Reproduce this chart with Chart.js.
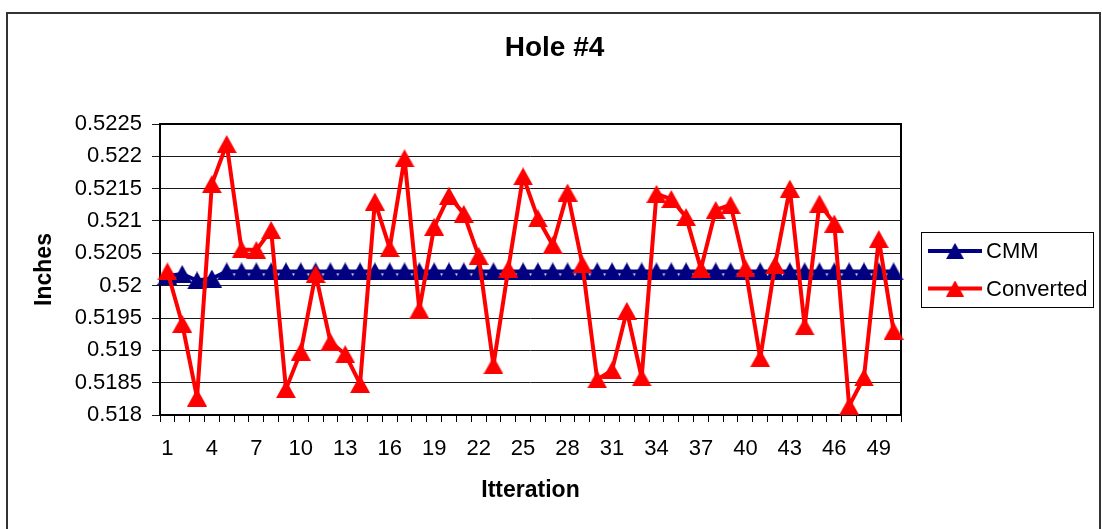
<!DOCTYPE html>
<html>
<head>
<meta charset="utf-8">
<title>Hole #4</title>
<script src="https://cdn.jsdelivr.net/npm/chart.js@4.4.0/dist/chart.umd.min.js"></script>
<style>
  html, body { margin: 0; padding: 0; background: #fff; }
  #chart { display: block; }
</style>
</head>
<body>
<canvas id="chart" width="1102" height="529"></canvas>
<script>
// data
var iterations = [1, 2, 3, 4, 5, 6, 7, 8, 9, 10,
  11, 12, 13, 14, 15, 16, 17, 18, 19, 20,
  21, 22, 23, 24, 25, 26, 27, 28, 29, 30,
  31, 32, 33, 34, 35, 36, 37, 38, 39, 40,
  41, 42, 43, 44, 45, 46, 47, 48, 49, 50];

var xTickLabels = [1, 4, 7, 10, 13, 16, 19, 22, 25, 28, 31, 34, 37, 40, 43, 46, 49];

var cmm = [0.52015, 0.52018, 0.52008, 0.52011, 0.52022, 0.52022, 0.52022, 0.52022, 0.52022, 0.52022,
  0.52022, 0.52022, 0.52022, 0.52022, 0.52022, 0.52022, 0.52022, 0.52022, 0.52022, 0.52022,
  0.52022, 0.52022, 0.52022, 0.52022, 0.52022, 0.52022, 0.52022, 0.52022, 0.52022, 0.52022,
  0.52022, 0.52022, 0.52022, 0.52022, 0.52022, 0.52022, 0.52022, 0.52022, 0.52022, 0.52022,
  0.52022, 0.52022, 0.52022, 0.52022, 0.52022, 0.52022, 0.52022, 0.52022, 0.52022, 0.52022];

var converted = [0.52022, 0.51941, 0.51827, 0.52157, 0.52219, 0.52056, 0.52055, 0.52086, 0.51840, 0.51898,
  0.52018, 0.51913, 0.51894, 0.51848, 0.52130, 0.52058, 0.52197, 0.51963, 0.52091, 0.52139,
  0.52111, 0.52046, 0.51877, 0.52026, 0.52169, 0.52104, 0.52063, 0.52144, 0.52033, 0.51855,
  0.51869, 0.51961, 0.51858, 0.52142, 0.52134, 0.52106, 0.52026, 0.52117, 0.52125, 0.52027,
  0.51888, 0.52032, 0.52150, 0.51937, 0.52127, 0.52096, 0.51814, 0.51858, 0.52072, 0.51930];

var yMin = 0.518;
var yMax = 0.5225;
var yStep = 0.0005;

var FONT = "'Liberation Sans', Arial, sans-serif";
var NAVY = '#000080';
var RED = '#FF0000';

// excel style triangle, centred on its box
function triangle(color, w, h) {
  var c = document.createElement('canvas');
  c.width = w;
  c.height = h;
  var g = c.getContext('2d');
  g.fillStyle = color;
  g.beginPath();
  g.moveTo(w / 2, 0);
  g.lineTo(w, h);
  g.lineTo(0, h);
  g.closePath();
  g.fill();
  return c;
}

var navyTri = triangle(NAVY, 20, 18);
var redTri = triangle(RED, 20, 18);

// legend drawn as a layout box on the right
var legendBox = {
  id: 'excelLegend',
  beforeInit: function(chart) {
    var box = {
      position: 'right',
      weight: 0,
      fullSize: false,
      options: {},
      width: 0, height: 0, left: 0, top: 0, right: 0, bottom: 0,
      isHorizontal: function() { return false; },
      update: function(maxWidth, maxHeight) {
        this.width = 201;
        this.height = maxHeight;
      },
      draw: function() {
        var ctx = chart.ctx;
        var area = chart.chartArea;
        var mid = (area.top + area.bottom) / 2;
        var x0 = this.left + 20;
        ctx.save();
        ctx.fillStyle = '#fff';
        ctx.fillRect(x0, mid - 37.5, 172, 75);
        ctx.strokeStyle = '#000';
        ctx.lineWidth = 1;
        ctx.strokeRect(Math.round(x0) + 0.5, Math.round(mid - 37.5) + 0.5, 172, 75);
        var items = chart.data.datasets;
        var rows = [mid - 18.5, mid + 19];
        items.forEach(function(ds, i) {
          var y = rows[i];
          ctx.strokeStyle = ds.borderColor;
          ctx.lineWidth = 4;
          ctx.beginPath();
          ctx.moveTo(x0 + 7, y);
          ctx.lineTo(x0 + 61, y);
          ctx.stroke();
          ctx.drawImage(ds.pointStyle, x0 + 34 - 9, y - 8, 18, 16);
          ctx.fillStyle = '#000';
          ctx.font = '22px ' + FONT;
          ctx.textAlign = 'left';
          ctx.textBaseline = 'middle';
          ctx.fillText(ds.label, x0 + 65, y + 1);
        });
        ctx.restore();
      }
    };
    Chart.layouts.addBox(chart, box);
  }
};

var framePlugin = {
  id: 'frame',
  beforeDraw: function(chart) {
    var ctx = chart.ctx;
    ctx.save();
    ctx.fillStyle = '#fff';
    ctx.fillRect(0, 0, chart.width, chart.height);
    ctx.restore();
  },
  beforeDatasetsDraw: function(chart) {
    var ctx = chart.ctx;
    var a = chart.chartArea;
    ctx.save();
    ctx.strokeStyle = '#000';
    ctx.lineWidth = 2;
    ctx.strokeRect(a.left, a.top, a.right - a.left, a.bottom - a.top);
    ctx.restore();
  },
  afterDraw: function(chart) {
    var ctx = chart.ctx;
    ctx.save();
    ctx.strokeStyle = '#333';
    ctx.lineWidth = 2;
    ctx.strokeRect(7, 13, 1093, 530);
    ctx.restore();
  }
};

new Chart(document.getElementById('chart'), {
  type: 'line',
  data: {
    labels: iterations,
    datasets: [{
      label: 'CMM',
      data: cmm,
      borderColor: NAVY,
      backgroundColor: NAVY,
      borderWidth: 4,
      pointStyle: navyTri,
      pointRadius: 9,
      borderJoinStyle: 'round',
      tension: 0,
      order: 2
    }, {
      label: 'Converted',
      data: converted,
      borderColor: RED,
      backgroundColor: RED,
      borderWidth: 4,
      pointStyle: redTri,
      pointRadius: 9,
      borderJoinStyle: 'round',
      tension: 0,
      order: 1
    }]
  },
  options: {
    responsive: false,
    animation: false,
    layout: { padding: { left: 7, right: 0, top: 0, bottom: 0 } },
    plugins: {
      legend: { display: false },
      tooltip: { enabled: false },
      title: {
        display: true,
        text: 'Hole #4',
        color: '#000',
        font: { family: FONT, size: 28, weight: 'bold', lineHeight: 1 },
        padding: { top: 34, bottom: 62 }
      }
    },
    scales: {
      x: {
        type: 'category',
        offset: true,
        border: { display: false },
        grid: {
          offset: true,
          drawOnChartArea: false,
          drawTicks: true,
          tickLength: 7,
          color: '#000'
        },
        ticks: {
          autoSkip: false,
          maxRotation: 0,
          padding: 14,
          color: '#000',
          font: { family: FONT, size: 22 },
          callback: function(v, i) {
            var lab = iterations[i];
            return xTickLabels.indexOf(lab) >= 0 ? String(lab) : '';
          }
        },
        title: {
          display: true,
          text: 'Itteration',
          color: '#000',
          font: { family: FONT, size: 23, weight: 'bold', lineHeight: 1.2 },
          padding: { top: 0, bottom: 25 }
        },
        afterFit: function(s) { s.height = 114; }
      },
      y: {
        min: yMin,
        max: yMax,
        border: { display: false },
        grid: {
          color: '#1a1a1a',
          lineWidth: 1,
          drawTicks: true,
          tickLength: 8
        },
        ticks: {
          stepSize: yStep,
          padding: 10,
          color: '#000',
          font: { family: FONT, size: 22 },
          callback: function(v) { return String(parseFloat(v.toFixed(4))); }
        },
        title: {
          display: true,
          text: 'Inches',
          color: '#000',
          font: { family: FONT, size: 23, weight: 'bold', lineHeight: 1.2 },
          padding: { top: 24, bottom: 0 }
        },
        afterFit: function(s) { s.width = 153; }
      }
    }
  },
  plugins: [legendBox, framePlugin]
});
</script>
</body>
</html>
